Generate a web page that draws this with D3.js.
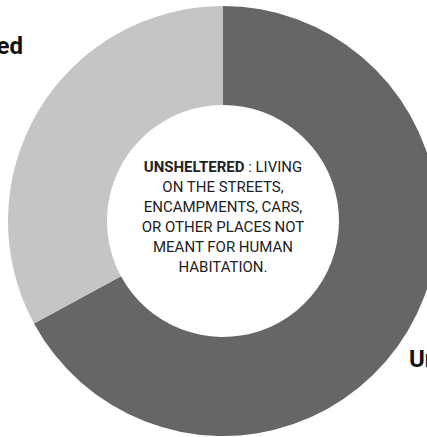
<!DOCTYPE html>
<html>
<head>
<meta charset="utf-8">
<script src="https://cdn.jsdelivr.net/npm/d3@7"></script>
<style>
  html, body { margin: 0; padding: 0; background: #fff; overflow: hidden; }
  svg { display: block; font-family: Roboto, "Noto Sans", sans-serif; }
</style>
</head>
<body>
<svg id="chart" width="427" height="437"></svg>
<script>
const categories = ["Unsheltered", "Sheltered"];
const values = [67.1, 32.9];
const colors = ["#666666", "#c5c5c5"];
const centerLines = [
  [{t: "UNSHELTERED", b: true}, {t: " : LIVING", b: false}],
  [{t: "ON THE STREETS,", b: false}],
  [{t: "ENCAMPMENTS, CARS,", b: false}],
  [{t: "OR OTHER PLACES NOT", b: false}],
  [{t: "MEANT FOR HUMAN", b: false}],
  [{t: "HABITATION.", b: false}]
];

const W = 427, H = 437;
const cx = 223, cy = 221, R = 215, r = 116;
const svg = d3.select("#chart");
const g = svg.append("g").attr("transform", `translate(${cx},${cy})`);

const data = categories.map((c, i) => ({name: c, value: values[i], color: colors[i]}));
const pie = d3.pie().sort(null).value(d => d.value);
const arc = d3.arc().innerRadius(r).outerRadius(R);
const arcs = pie(data);

g.selectAll("path").data(arcs).enter().append("path")
  .attr("d", arc)
  .attr("fill", d => d.data.color);

// outside labels (partially clipped by the viewport, as in the reference)
const labelPos = {
  "Unsheltered": {dx: 186, dy: 146, anchor: "start"},
  "Sheltered": {dx: -200, dy: -167, anchor: "end"}
};
g.selectAll("text.lbl").data(arcs).enter().append("text")
  .attr("class", "lbl")
  .attr("x", d => labelPos[d.data.name].dx)
  .attr("y", d => labelPos[d.data.name].dy)
  .attr("text-anchor", d => labelPos[d.data.name].anchor)
  .attr("font-size", 24)
  .attr("font-weight", "bold")
  .attr("fill", "#111")
  .text(d => d.data.name);

// center text
const lineH = 20;
const firstBaseline = -49;
const ct = g.append("text")
  .attr("text-anchor", "middle")
  .attr("font-size", 15)
  .attr("fill", "#222");
centerLines.forEach((line, i) => {
  const tl = ct.append("tspan").attr("x", 0).attr("y", firstBaseline + i * lineH);
  line.forEach(seg => {
    tl.append("tspan").attr("font-weight", seg.b ? "bold" : "normal").text(seg.t);
  });
});
</script>
</body>
</html>
